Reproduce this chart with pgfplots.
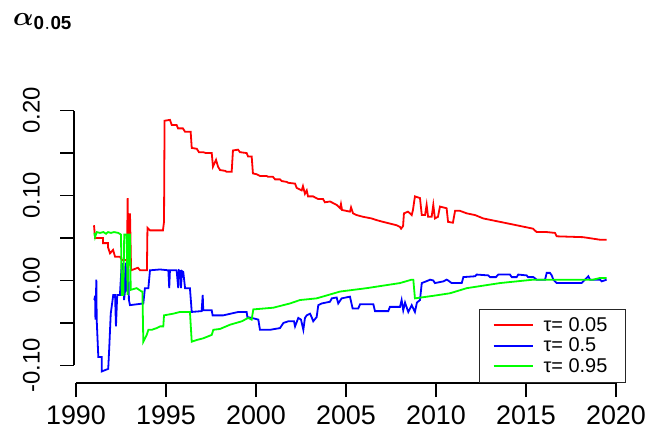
\documentclass[border=0pt]{standalone}
\usepackage{fontspec}
\setmainfont{Liberation Sans}
\usepackage{bm}
\usepackage{pgfplots}
\pgfplotsset{compat=1.18}

\pgfplotstableread{
x y
1991.00 0.065
1991.06 0.050
1991.50 0.050
1991.50 0.044
1991.78 0.044
1991.78 0.039
1991.89 0.032
1992.06 0.036
1992.17 0.028
1992.44 0.028
1992.56 0.024
1992.83 0.024
1992.87 0.097
1992.92 0.015
1993.00 0.079
1993.06 0.012
1993.44 0.015
1993.56 0.012
1993.94 0.012
1993.97 0.062
1994.11 0.059
1994.83 0.059
1994.89 0.069
1994.92 0.188
1995.22 0.189
1995.32 0.183
1995.59 0.183
1995.67 0.179
1995.94 0.179
1996.06 0.175
1996.37 0.175
1996.43 0.156
1996.71 0.155
1996.83 0.151
1997.06 0.151
1997.22 0.150
1997.54 0.150
1997.61 0.134
1997.78 0.142
1997.89 0.134
1998.00 0.130
1998.28 0.129
1998.37 0.128
1998.65 0.128
1998.72 0.153
1999.00 0.154
1999.11 0.151
1999.48 0.150
1999.56 0.146
1999.76 0.146
1999.83 0.126
2000.04 0.125
2000.22 0.123
2000.59 0.123
2000.67 0.122
2000.94 0.122
2001.06 0.119
2001.33 0.119
2001.43 0.117
2001.71 0.116
2001.78 0.115
2002.17 0.114
2002.26 0.109
2002.54 0.106
2002.61 0.111
2002.72 0.102
2002.82 0.106
2002.89 0.099
2003.17 0.099
2003.44 0.096
2003.72 0.096
2003.83 0.092
2004.11 0.093
2004.48 0.089
2004.67 0.085
2004.72 0.090
2004.78 0.083
2005.22 0.081
2005.28 0.086
2005.39 0.079
2005.59 0.077
2005.94 0.075
2006.43 0.073
2006.71 0.071
2007.06 0.069
2007.82 0.065
2008.00 0.063
2008.06 0.061
2008.17 0.064
2008.22 0.079
2008.44 0.081
2008.56 0.079
2008.65 0.077
2008.72 0.083
2008.83 0.099
2009.11 0.097
2009.21 0.077
2009.39 0.077
2009.48 0.089
2009.56 0.075
2009.76 0.075
2009.85 0.089
2009.94 0.073
2010.11 0.075
2010.22 0.087
2010.59 0.085
2010.67 0.069
2010.94 0.068
2011.06 0.082
2011.33 0.082
2011.71 0.079
2012.17 0.077
2012.63 0.073
2013.56 0.069
2014.48 0.065
2015.39 0.061
2015.59 0.057
2016.15 0.057
2016.61 0.056
2016.71 0.052
2018.17 0.051
2019.11 0.048
2019.48 0.048
}\redtab

\pgfplotstableread{
x y
1991.02 -0.023
1991.06 -0.018
1991.08 -0.046
1991.13 0.001
1991.15 -0.046
1991.24 -0.090
1991.43 -0.090
1991.43 -0.107
1991.79 -0.104
1991.85 -0.078
1991.93 -0.039
1992.07 -0.017
1992.17 -0.017
1992.22 -0.054
1992.29 -0.017
1992.44 -0.017
1992.54 0.020
1992.63 0.018
1992.67 -0.023
1992.72 -0.013
1992.78 0.021
1992.83 -0.013
1992.91 0.014
1992.94 -0.023
1993.00 -0.029
1993.74 -0.027
1993.83 -0.009
1994.02 -0.009
1994.11 0.012
1994.67 0.013
1995.13 0.012
1995.18 -0.009
1995.22 0.012
1995.59 0.012
1995.68 -0.009
1995.72 0.012
1995.81 0.011
1995.83 -0.009
1995.89 0.011
1995.96 0.010
1996.06 -0.009
1996.33 -0.009
1996.43 -0.037
1996.98 -0.036
1997.04 -0.017
1997.07 -0.035
1997.54 -0.035
1997.59 -0.041
1998.18 -0.041
1999.02 -0.037
1999.48 -0.037
1999.52 -0.043
1999.76 -0.044
2000.13 -0.046
2000.22 -0.058
2000.78 -0.058
2001.33 -0.056
2001.52 -0.050
2001.79 -0.048
2002.11 -0.048
2002.17 -0.054
2002.35 -0.044
2002.50 -0.046
2002.63 -0.058
2002.72 -0.044
2002.82 -0.041
2003.00 -0.039
2003.09 -0.043
2003.18 -0.048
2003.37 -0.043
2003.46 -0.029
2003.65 -0.027
2004.11 -0.025
2004.21 -0.021
2004.48 -0.020
2004.57 -0.027
2004.76 -0.021
2005.22 -0.019
2005.37 -0.033
2005.68 -0.033
2005.78 -0.028
2006.52 -0.028
2006.61 -0.036
2007.35 -0.036
2007.44 -0.031
2008.00 -0.031
2008.09 -0.023
2008.18 -0.035
2008.28 -0.026
2008.46 -0.037
2008.65 -0.029
2008.83 -0.037
2008.94 -0.026
2009.11 -0.023
2009.21 -0.003
2009.57 0.000
2009.67 0.001
2009.85 0.000
2009.94 -0.003
2010.41 -0.001
2010.59 0.001
2010.68 0.000
2010.87 -0.003
2011.43 -0.003
2011.52 0.004
2012.17 0.005
2012.26 0.007
2012.91 0.006
2013.00 0.004
2013.33 0.004
2013.46 0.007
2014.11 0.007
2014.21 0.004
2014.48 0.004
2014.57 0.007
2015.04 0.006
2015.11 0.004
2015.41 0.004
2015.59 0.001
2016.06 0.001
2016.15 0.009
2016.33 0.009
2016.43 0.006
2016.52 0.001
2016.71 -0.003
2018.09 -0.003
2018.28 0.001
2018.46 0.005
2018.56 0.001
2019.11 0.001
2019.21 -0.001
2019.48 0.001
}\bluetab

\pgfplotstableread{
x y
1991.02 0.056
1991.06 0.051
1991.15 0.057
1991.33 0.056
1991.52 0.057
1991.67 0.055
1991.78 0.057
1991.94 0.056
1992.11 0.057
1992.35 0.056
1992.50 0.054
1992.54 -0.017
1992.63 -0.017
1992.68 0.054
1992.81 0.054
1992.87 -0.017
1992.92 0.054
1993.00 0.054
1993.04 -0.011
1993.37 -0.009
1993.65 -0.013
1993.69 -0.013
1993.74 -0.072
1993.93 -0.064
1994.02 -0.058
1994.21 -0.058
1994.48 -0.056
1994.67 -0.054
1994.85 -0.054
1994.89 -0.041
1995.41 -0.039
1995.78 -0.037
1996.33 -0.037
1996.43 -0.072
1996.71 -0.070
1997.07 -0.068
1997.54 -0.064
1997.63 -0.058
1998.00 -0.057
1998.56 -0.052
1999.21 -0.048
1999.57 -0.044
1999.76 -0.046
1999.85 -0.034
2000.96 -0.032
2001.89 -0.027
2002.44 -0.023
2003.37 -0.021
2004.67 -0.013
2006.15 -0.009
2008.00 -0.003
2008.65 0.001
2008.74 0.001
2008.83 -0.021
2009.85 -0.018
2010.78 -0.015
2011.71 -0.009
2013.56 -0.003
2015.41 0.001
2016.52 0.001
2017.26 0.001
2018.74 0.001
2019.11 0.003
2019.48 0.003
}\greentab

\begin{document}
\begin{tikzpicture}
\begin{axis}[
  at={(0,0)}, anchor=south west,
  scale only axis, width=554bp, height=273.4bp,
  xmin=1989.889, xmax=2020.667, ymin=-0.1206, ymax=0.2011,
  axis x line*=bottom, axis y line*=left,
  axis line style={draw=none},
  tick align=outside, major tick length=14bp,
  tick style={black, line width=1.2bp},
  xtick={1990,1995,2000,2005,2010,2015,2020},
  xticklabels={1990,1995,2000,2005,2010,2015,2020},
  ytick={-0.1,-0.05,0,0.05,0.1,0.15,0.2},
  yticklabels={-0.10,{},0.00,{},0.10,{},0.20},
  x tick label style={font=\fontsize{27}{27}\selectfont, inner sep=0pt, anchor=north},
  y tick label style={font=\fontsize{24}{24}\selectfont, inner sep=0pt, rotate=90, anchor=south},
  xticklabel shift=9bp, yticklabel shift=20bp,
  clip=false,
  legend cell align=left,
  legend style={at={(rel axis cs:0.9964,0)}, anchor=south east,
    draw=black!85, line width=1.2bp, fill=white,
    font=\fontsize{20}{20}\selectfont, inner xsep=13bp, inner ysep=6bp, row sep=0bp,
    nodes={inner xsep=5bp, inner ysep=2.5bp},
    /tikz/every odd column/.append style={column sep=5bp}},
  legend image code/.code={\draw[#1] (0bp,0bp) -- (39bp,0bp);},
]
\addplot[red, line width=1.8bp] table[x=x,y=y] {\redtab};
\addlegendentry{τ= 0.05}
\addplot[blue, line width=1.8bp] table[x=x,y=y] {\bluetab};
\addlegendentry{τ= 0.5}
\addplot[green, line width=1.8bp] table[x=x,y=y] {\greentab};
\addlegendentry{τ= 0.95}
\draw[black, line width=1.2bp] (axis cs:1990,-0.1206) -- (axis cs:2020,-0.1206);
\draw[black, line width=1.2bp] (axis cs:1989.889,-0.1) -- (axis cs:1989.889,0.2);
\end{axis}
\node[anchor=north west, inner sep=0pt] at (-61bp,370bp) {\scalebox{2.7}{$\bm{\alpha}_{\mathbf{0.05}}$}};
\pgfresetboundingbox
\path[use as bounding box] (-74bp,-56bp) rectangle (577bp,383bp);
\end{tikzpicture}
\end{document}
